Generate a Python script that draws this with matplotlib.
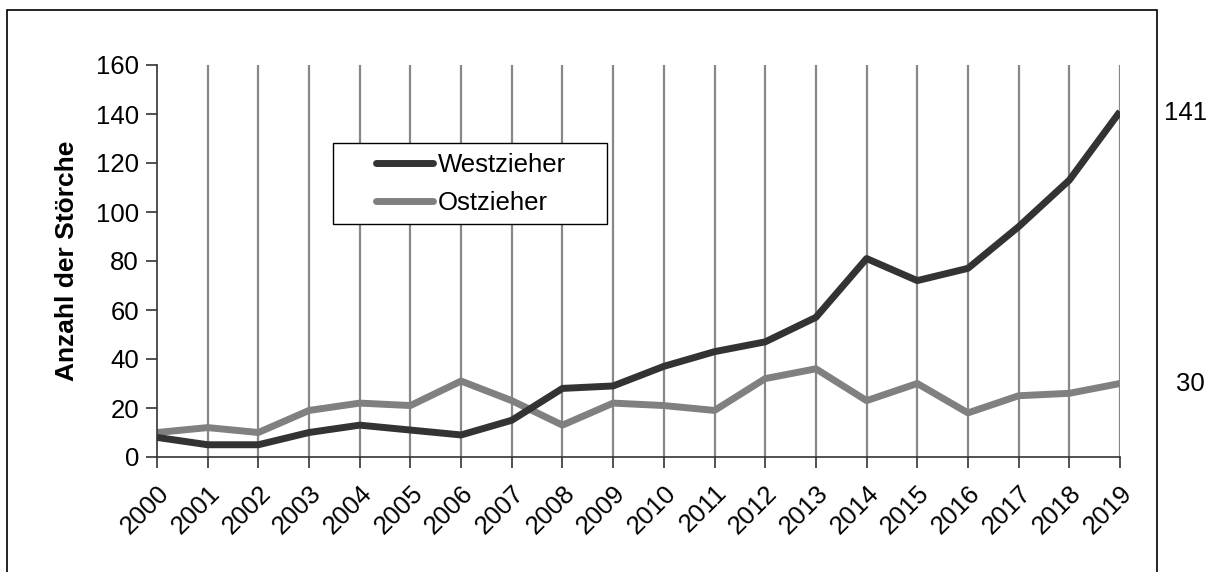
import numpy as np
import matplotlib
matplotlib.use("Agg")
import matplotlib.pyplot as plt
from matplotlib.patches import Rectangle

plt.rcParams['font.family'] = ['Liberation Sans', 'DejaVu Sans']

# data
jahre = [str(j) for j in range(2000, 2020)]
westzieher = [8, 5, 5, 10, 13, 11, 9, 15, 28, 29, 37, 43, 47, 57, 81, 72, 77, 94, 113, 141]
ostzieher = [10, 12, 10, 19, 22, 21, 31, 23, 13, 22, 21, 19, 32, 36, 23, 30, 18, 25, 26, 30]
yticks = [0, 20, 40, 60, 80, 100, 120, 140, 160]

W, H = 1212, 572
fs = 18.5

fig = plt.figure(figsize=(W/100, H/100), dpi=100)
ax = fig.add_axes([157/W, 1 - 457/H, (1120 - 157)/W, (457 - 65)/H])

x = np.arange(len(jahre))

# vertical grid lines at each year
for xi in x[1:]:
    ax.axvline(xi, color='#888888', lw=1.6, zorder=1)

ax.plot(x, westzieher, color='#333333', lw=5, label='Westzieher', zorder=3,
        solid_capstyle='butt')
ax.plot(x, ostzieher, color='#808080', lw=5, label='Ostzieher', zorder=2,
        solid_capstyle='butt')

ax.set_xlim(0, len(jahre) - 1)
ax.set_ylim(0, 160)
ax.set_yticks(yticks)
ax.set_xticks(x)
ax.set_xticklabels(jahre, rotation=45, ha='right', rotation_mode='anchor')
ax.tick_params(axis='both', labelsize=fs, direction='out', length=8,
               width=1.2, color='#333333', pad=5)
ax.tick_params(axis='x', pad=9)

for s in ['top', 'right']:
    ax.spines[s].set_visible(False)
for s in ['left', 'bottom']:
    ax.spines[s].set_color('#333333')
    ax.spines[s].set_linewidth(1.2)

ax.set_ylabel('Anzahl der Störche', fontsize=19, fontweight='bold', labelpad=12)

# legend box drawn separately (wide horizontal padding)
box = Rectangle((333/W, 1 - 224/H), (607 - 333)/W, (224 - 143)/H,
                transform=fig.transFigure, facecolor='white',
                edgecolor='black', lw=1.0, zorder=4)
ax.add_patch(box)
leg = ax.legend(loc='center left', bbox_to_anchor=((376 - 157)/963, (457 - 184)/392),
                fontsize=fs, frameon=False, handlelength=2.2,
                handletextpad=0.2, labelspacing=0.55, borderaxespad=0, borderpad=0)
leg.set_zorder(5)
for ln in leg.get_lines():
    ln.set_solid_capstyle('round')

# end values outside the box
fig.text(1186/W, 1 - 113/H, str(westzieher[-1]), ha='center', va='center', fontsize=fs)
fig.text(1190/W, 1 - 384/H, str(ostzieher[-1]), ha='center', va='center', fontsize=fs)

# outer border
fig.patches.append(Rectangle((7/W, -0.1), (1157 - 7)/W, 1.1 - 10/H,
                             transform=fig.transFigure, fill=False,
                             edgecolor='black', lw=1.2, clip_on=False))

fig.savefig('out.png', dpi=100)
